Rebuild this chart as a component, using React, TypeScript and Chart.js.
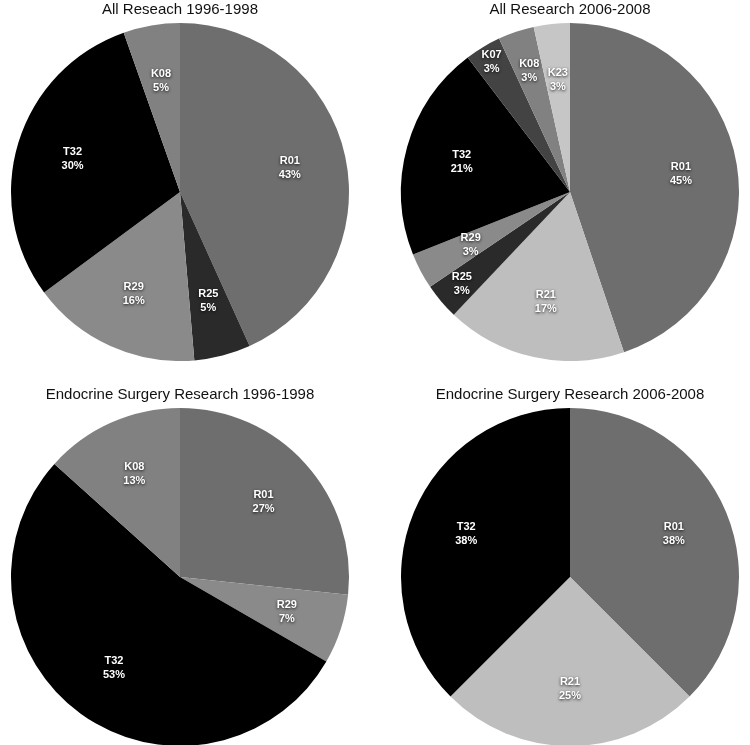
import React, { useEffect, useRef } from "react";
import { Chart, registerables } from "chart.js";

Chart.register(...registerables);

// ---- Data (grant counts per mechanism) ----
const allEarlyTitle = "All Reseach 1996-1998";
const allEarlyCategories = ["R01", "R25", "R29", "T32", "K08"];
const allEarlyCounts = [16, 2, 6, 11, 2];

const allLateTitle = "All Research 2006-2008";
const allLateCategories = ["R01", "R21", "R25", "R29", "T32", "K07", "K08", "K23"];
const allLateCounts = [13, 5, 1, 1, 6, 1, 1, 1];

const endoEarlyTitle = "Endocrine Surgery Research 1996-1998";
const endoEarlyCategories = ["R01", "R29", "T32", "K08"];
const endoEarlyCounts = [4, 1, 8, 2];

const endoLateTitle = "Endocrine Surgery Research 2006-2008";
const endoLateCategories = ["R01", "R21", "T32"];
const endoLateCounts = [3, 2, 3];

// ---- Styles ----
const grantColors: Record<string, string> = {
  R01: "#6e6e6e",
  R21: "#bebebe",
  R25: "#2a2a2a",
  R29: "#8a8a8a",
  T32: "#000000",
  K07: "#434343",
  K08: "#818181",
  K23: "#c6c6c6",
};

const FONT = "'Liberation Sans', Arial, Helvetica, sans-serif";

const sliceLabels = {
  id: "sliceLabels",
  afterDatasetsDraw(chart: any, _args: any, opts: any) {
    const ctx = chart.ctx;
    const meta = chart.getDatasetMeta(0);
    const values: number[] = chart.data.datasets[0].data;
    const labels: string[] = chart.data.labels;
    const total = values.reduce((a, b) => a + b, 0);
    const push = (opts && opts.push) || {};
    ctx.save();
    ctx.font = `bold 11px ${FONT}`;
    ctx.fillStyle = "#ffffff";
    ctx.textAlign = "center";
    ctx.textBaseline = "middle";
    ctx.shadowColor = "rgba(0,0,0,0.85)";
    ctx.shadowBlur = 3;
    ctx.shadowOffsetX = 0;
    ctx.shadowOffsetY = 1;
    meta.data.forEach((arc: any, i: number) => {
      const { x, y, startAngle, endAngle, outerRadius } = arc.getProps(
        ["x", "y", "startAngle", "endAngle", "outerRadius"],
        true
      );
      const mid = (startAngle + endAngle) / 2;
      const f = push[labels[i]] ?? 0.665;
      const px = x + Math.cos(mid) * outerRadius * f;
      const py = y + Math.sin(mid) * outerRadius * f;
      const pct = Math.round((values[i] / total) * 100) + "%";
      ctx.fillText(labels[i], px, py - 7);
      ctx.fillText(pct, px, py + 7);
    });
    ctx.restore();
  },
};

type PieProps = {
  title: string;
  categories: string[];
  counts: number[];
  left: number;
  top: number;
  push?: Record<string, number>;
};

function Pie({ title, categories, counts, left, top, push }: PieProps) {
  const ref = useRef<HTMLCanvasElement | null>(null);
  useEffect(() => {
    if (!ref.current) return;
    const chart = new Chart(ref.current, {
      type: "pie",
      data: {
        labels: categories,
        datasets: [
          {
            data: counts,
            backgroundColor: categories.map((c) => grantColors[c]),
            borderWidth: 0,
            hoverOffset: 0,
          },
        ],
      },
      options: {
        responsive: false,
        animation: false,
        events: [],
        layout: { padding: 0 },
        plugins: {
          legend: { display: false },
          tooltip: { enabled: false },
          title: {
            display: true,
            text: title,
            color: "#111111",
            font: { size: 15, family: FONT, weight: "normal", lineHeight: 1.2 },
            padding: { top: 1, bottom: 4 },
          },
          // @ts-ignore
          sliceLabels: { push: push || {} },
        },
      },
      plugins: [sliceLabels as any],
    });
    return () => chart.destroy();
  }, []);
  return (
    <div style={{ position: "absolute", left, top, width: 360, height: 361 }}>
      <canvas ref={ref} width={360} height={361} style={{ display: "block" }} />
    </div>
  );
}

export default function App() {
  return (
    <div
      style={{
        position: "fixed",
        left: 0,
        top: 0,
        width: 750,
        height: 745,
        overflow: "hidden",
        background: "#ffffff",
      }}
    >
      <Pie title={allEarlyTitle} categories={allEarlyCategories} counts={allEarlyCounts} left={0} top={0} />
      <Pie
        title={allLateTitle}
        categories={allLateCategories}
        counts={allLateCounts}
        left={390}
        top={0}
        push={{ R25: 0.84, K07: 0.9, K08: 0.755 }}
      />
      <Pie title={endoEarlyTitle} categories={endoEarlyCategories} counts={endoEarlyCounts} left={0} top={385} />
      <Pie title={endoLateTitle} categories={endoLateCategories} counts={endoLateCounts} left={390} top={385} />
    </div>
  );
}
